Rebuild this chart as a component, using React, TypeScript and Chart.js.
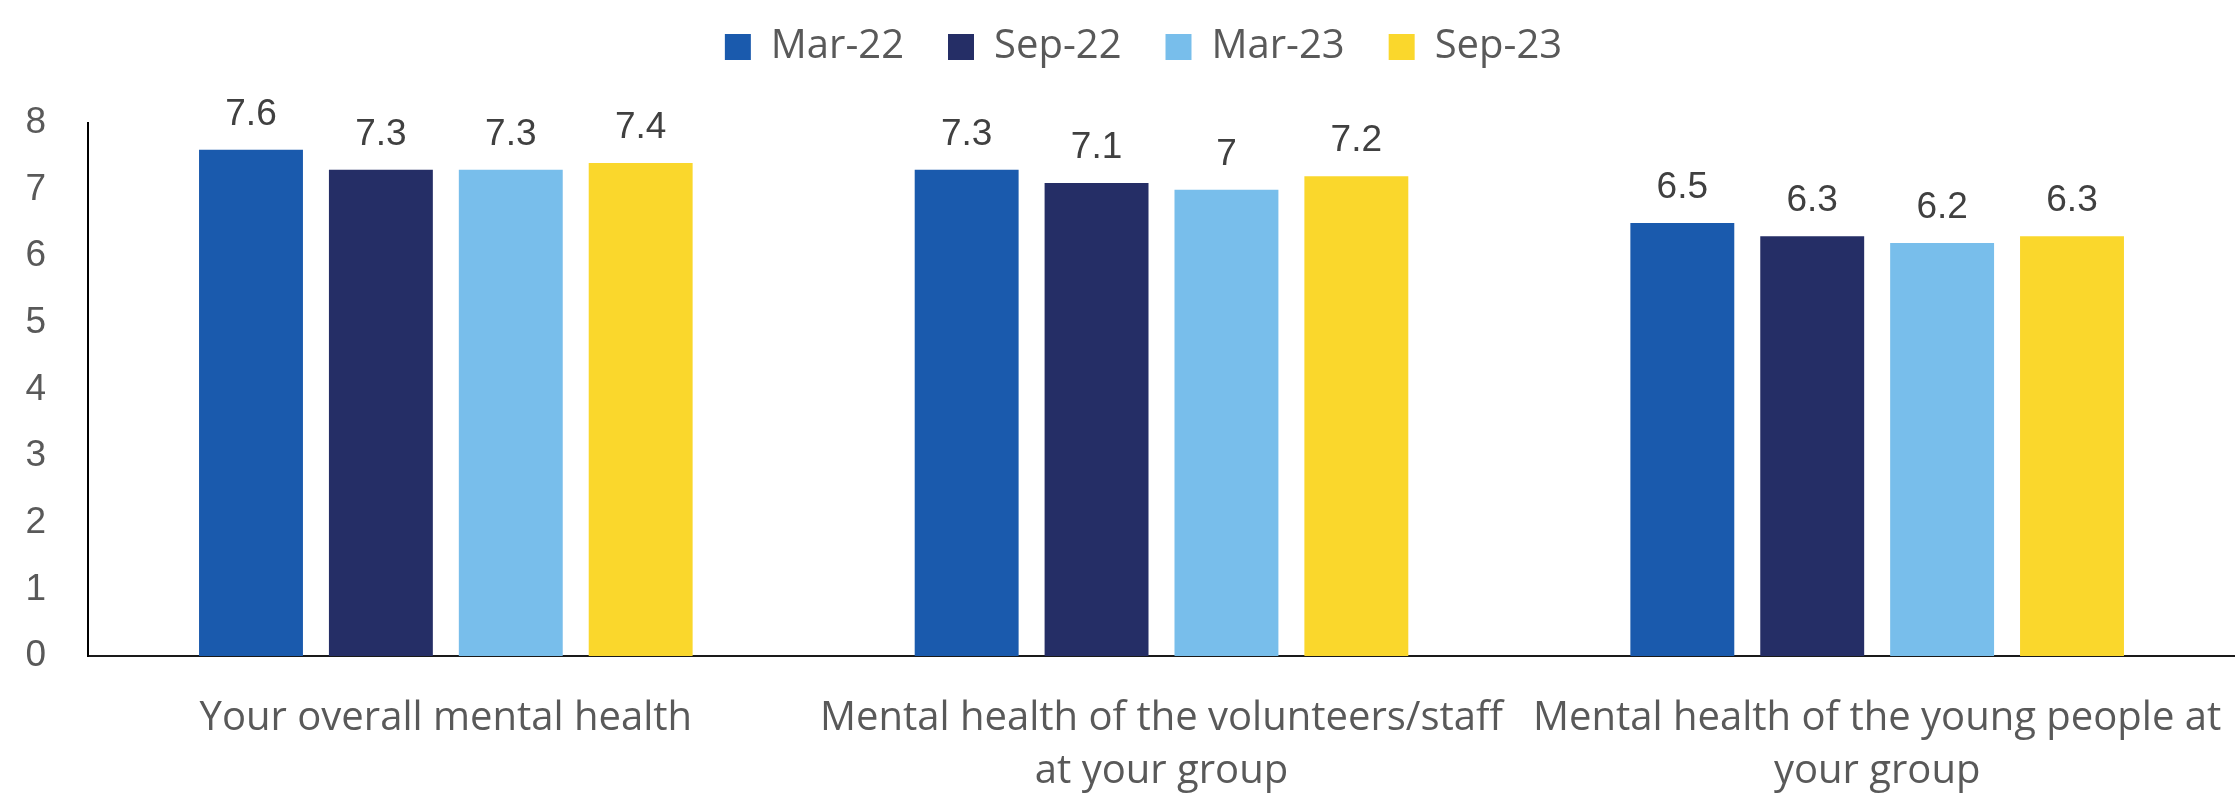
import React, { useEffect, useRef } from 'react';
import { Chart, registerables } from 'chart.js';

Chart.register(...registerables);

// ---- Data ----
const categories: string[][] = [
  ['Your overall mental health'],
  ['Mental health of the volunteers/staff', 'at your group'],
  ['Mental health of the young people at', 'your group'],
];
const seriesNames = ['Mar-22', 'Sep-22', 'Mar-23', 'Sep-23'];
const mar22 = [7.6, 7.3, 6.5];
const sep22 = [7.3, 7.1, 6.3];
const mar23 = [7.3, 7.0, 6.2];
const sep23 = [7.4, 7.2, 6.3];
const seriesColors = ['#1A5AAD', '#252E66', '#78BEEB', '#FAD72C'];
const yMin = 0;
const yMax = 8;
const yStep = 1;

const LABEL_FONT = '"Open Sans", "Noto Sans", sans-serif';
const NUM_FONT = '"Liberation Sans", Arial, sans-serif';

const valueLabels = {
  id: 'valueLabels',
  afterDatasetsDraw(chart: any) {
    const ctx = chart.ctx;
    ctx.save();
    ctx.font = `37px ${NUM_FONT}`;
    ctx.fillStyle = '#404040';
    ctx.textAlign = 'center';
    ctx.textBaseline = 'alphabetic';
    chart.data.datasets.forEach((ds: any, i: number) => {
      const meta = chart.getDatasetMeta(i);
      meta.data.forEach((el: any, j: number) => {
        ctx.fillText(String(ds.data[j]), el.x, el.y - 25);
      });
    });
    ctx.restore();
  },
};

// nudges the legend row slightly left so it sits where the reference has it
const legendNudge = {
  id: 'legendNudge',
  afterLayout(chart: any) {
    const lg = chart.legend;
    if (lg) {
      lg.left -= 18;
      lg.right -= 18;
    }
  },
};

export default function App() {
  const ref = useRef<HTMLCanvasElement | null>(null);

  useEffect(() => {
    if (!ref.current) return;
    const seriesValues = [mar22, sep22, mar23, sep23];
    const chart = new Chart(ref.current, {
      type: 'bar',
      data: {
        labels: categories as any,
        datasets: seriesNames.map((name, i) => ({
          label: name,
          data: seriesValues[i],
          backgroundColor: seriesColors[i],
          borderWidth: 0,
          categoryPercentage: 0.726,
          barPercentage: 0.8,
        })),
      },
      options: {
        responsive: false,
        animation: false,
        layout: { padding: { top: -17, left: 0, right: -8, bottom: 0 } },
        plugins: {
          legend: {
            display: true,
            position: 'top',
            fullSize: false,
            labels: {
              boxWidth: 26,
              boxHeight: 26,
              padding: 44,
              color: '#595959',
              font: { family: LABEL_FONT, size: 40 },
            },
          },
          subtitle: {
            display: true,
            text: '',
            weight: 500,
            position: 'top',
            padding: { top: 45, bottom: 0 },
            font: { size: 1, lineHeight: 1 },
          } as any,
          title: { display: false },
          tooltip: { enabled: false },
        },
        scales: {
          x: {
            grid: { display: false, drawTicks: false },
            border: { display: true, color: '#1a1a1a', width: 2 },
            ticks: {
              color: '#595959',
              font: { family: LABEL_FONT, size: 40, lineHeight: 1.325 },
              padding: 36,
              maxRotation: 0,
              minRotation: 0,
              autoSkip: false,
            },
            afterFit: (s: any) => {
              s.height = 137;
              s.paddingLeft = 0;
              s.paddingRight = 0;
            },
          },
          y: {
            min: yMin,
            max: yMax,
            grid: { display: false, drawTicks: false },
            border: { display: true, color: '#000000', width: 2 },
            ticks: {
              stepSize: yStep,
              color: '#595959',
              font: { family: NUM_FONT, size: 37 },
              padding: 42,
            },
            afterFit: (s: any) => {
              s.width = 88;
            },
          },
        },
      } as any,
      plugins: [valueLabels, legendNudge],
    });
    return () => chart.destroy();
  }, []);

  return (
    <div style={{ position: 'fixed', left: 0, top: 0, width: 2235, height: 793, background: '#ffffff' }}>
      <canvas ref={ref} width={2235} height={793} style={{ display: 'block' }} />
    </div>
  );
}
